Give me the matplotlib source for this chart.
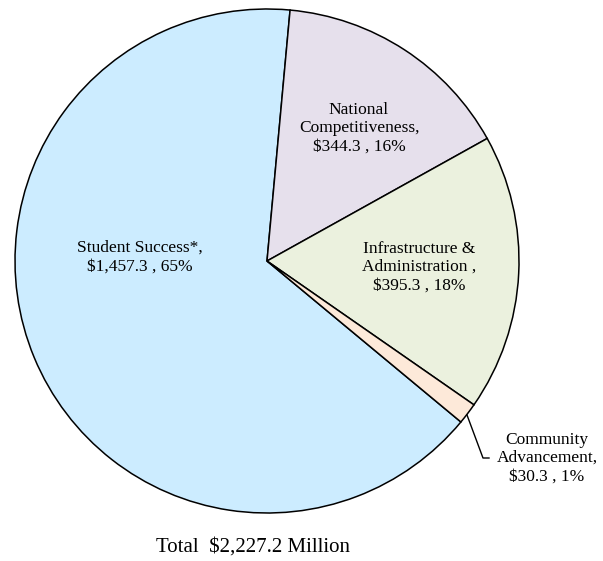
import matplotlib.pyplot as plt

plt.rcParams['font.family'] = ['Liberation Serif', 'DejaVu Serif']

# data
names = ["Student Success*", "National\nCompetitiveness", "Infrastructure &\nAdministration ", "Community\nAdvancement"]
values = [1457.3, 344.3, 395.3, 30.3]
pcts = ["65%", "16%", "18%", "1%"]
colors = ["#CCECFF", "#E6E0EC", "#EBF1DE", "#FDE9D9"]
total_label = "Total  $2,227.2 Million"

W, H = 603, 561
fig = plt.figure(figsize=(W / 100, H / 100), dpi=100)
ax = fig.add_axes([0, 0, 1, 1])

cx, cy, r = 267, H - 261, 252
wedges, _ = ax.pie(values, colors=colors, startangle=-39.7, counterclock=False,
                   center=(cx, cy), radius=r, frame=True,
                   wedgeprops=dict(edgecolor='black', linewidth=1.1))
ax.set_xlim(0, W)
ax.set_ylim(0, H)
ax.set_aspect('equal')
ax.axis('off')

# label text = name, value, percent
labels = [f"{n},\n${v:,.1f} , {p}" for n, v, p in zip(names, values, pcts)]
pos = [(140, 257), (359, 128), (419, 267), (547, 458)]
for lab, (x, y) in zip(labels, pos):
    ax.text(x, H - y, lab, ha='center', va='center', fontsize=12.5, linespacing=1.2)

# leader line for small slice
ax.plot([467, 483, 489], [H - 415, H - 458, H - 458], color='black', lw=1)

ax.text(253, H - 547, total_label, ha='center', va='center', fontsize=15)

fig.savefig("out.png", dpi=100)
